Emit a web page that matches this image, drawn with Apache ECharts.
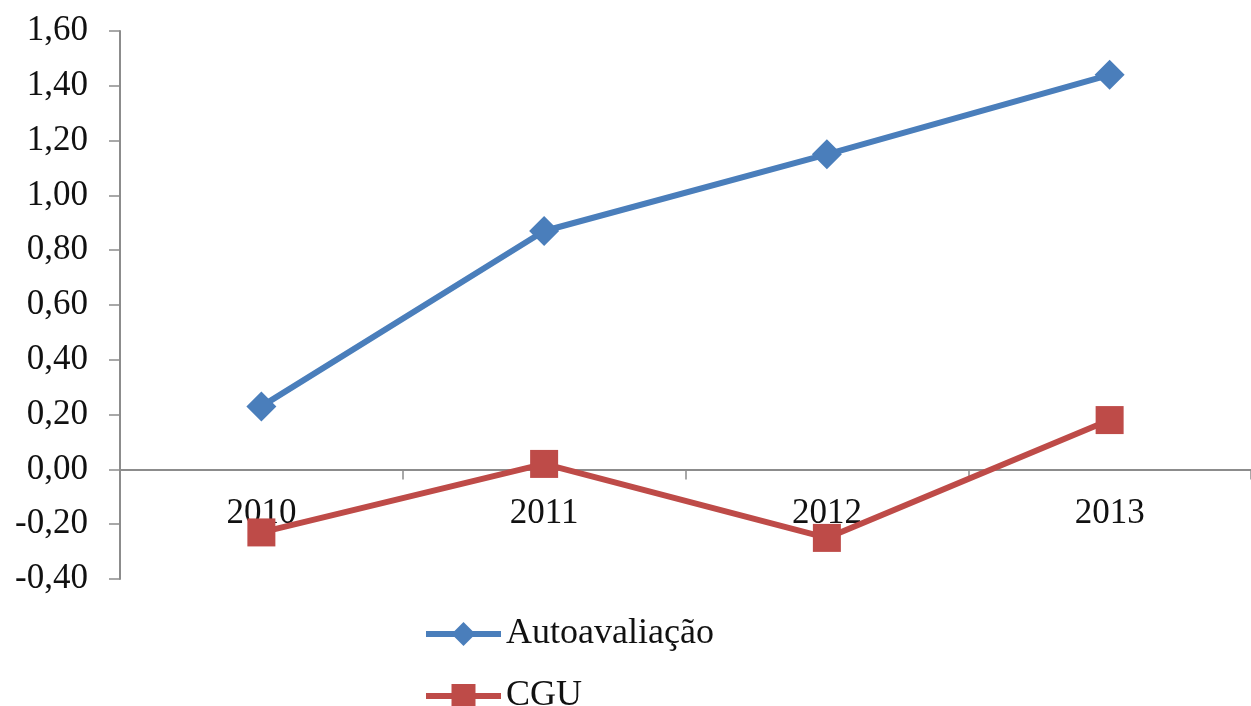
<!DOCTYPE html>
<html>
<head>
<meta charset="utf-8">
<script src="https://cdn.jsdelivr.net/npm/echarts@6/dist/echarts.min.js"></script>
<style>
html, body { margin: 0; padding: 0; background: #fff; }
#chart { width: 1251px; height: 706px; }
</style>
</head>
<body>
<div id="chart"></div>
<script>
var years = ['2010', '2011', '2012', '2013'];
var autoavaliacao = [0.23, 0.87, 1.15, 1.44];
var cgu = [-0.23, 0.02, -0.25, 0.18];
var seriesNames = ['Autoavaliação', 'CGU'];
var colors = ['#4a7ebb', '#be4b48'];

var dom = document.getElementById('chart');
var myChart = echarts.init(dom);

var fontFamily = '"Liberation Serif", "DejaVu Serif", serif';

// one legend per row, stacked like the original
var legendBase = {
    orient: 'vertical',
    left: 423,
    padding: 0,
    itemWidth: 75,
    itemHeight: 30,
    lineStyle: { width: 6 },
    textStyle: {
        fontFamily: fontFamily,
        fontSize: 36,
        color: '#111'
    }
};

var option = {
    animation: false,
    color: colors,
    grid: {
        left: 120,
        right: 0,
        top: 31,
        bottom: 127,
        containLabel: false
    },
    legend: [
        Object.assign({}, legendBase, { top: 616, data: [seriesNames[0]] }),
        Object.assign({}, legendBase, { top: 678, data: [seriesNames[1]] })
    ],
    xAxis: {
        type: 'category',
        data: years,
        boundaryGap: true,
        // the zero line sits 20% up the grid (range -0.4 .. 1.6)
        offset: -109.6,
        axisLine: { onZero: false, lineStyle: { color: '#8c8c8c', width: 2 } },
        axisTick: { show: true, length: 10, inside: false, lineStyle: { color: '#8c8c8c', width: 1.5 } },
        axisLabel: {
            margin: 27,
            fontFamily: fontFamily,
            fontSize: 35,
            color: '#111'
        },
        splitLine: { show: false }
    },
    yAxis: {
        type: 'value',
        min: -0.4,
        max: 1.6,
        interval: 0.2,
        axisLine: { show: true, lineStyle: { color: '#8c8c8c', width: 2 } },
        axisTick: { show: true, length: 11, lineStyle: { color: '#8c8c8c', width: 1.5 } },
        axisLabel: {
            margin: 32,
            fontFamily: fontFamily,
            fontSize: 35,
            color: '#111',
            formatter: function (v) {
                return v.toFixed(2).replace('.', ',');
            }
        },
        splitLine: { show: false }
    },
    series: [
        {
            name: seriesNames[0],
            type: 'line',
            data: autoavaliacao,
            symbol: 'diamond',
            symbolSize: 30,
            lineStyle: { width: 6 },
            itemStyle: { color: colors[0] }
        },
        {
            name: seriesNames[1],
            type: 'line',
            data: cgu,
            symbol: 'rect',
            symbolSize: 28,
            lineStyle: { width: 6 },
            itemStyle: { color: colors[1] }
        }
    ]
};

if (option && typeof option === 'object') {
    myChart.setOption(option, true);
}
window.addEventListener('resize', function () {
    myChart.resize();
});
</script>
</body>
</html>
